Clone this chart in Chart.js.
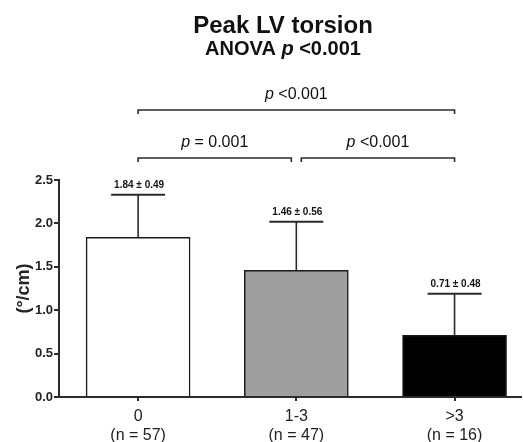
<!DOCTYPE html>
<html>
<head>
<meta charset="utf-8">
<script src="https://cdn.jsdelivr.net/npm/chart.js@4.4.1/dist/chart.umd.min.js"></script>
<style>
    html, body { margin: 0; padding: 0; background: #fff; }
    #wrap { width: 523px; height: 442px; position: relative; }
</style>
</head>
<body>
<div id="wrap"><canvas id="torsion-chart"></canvas></div>
<script>
// Chart data
const categories = ['0', '1-3', '>3'];
const groupSizes = [57, 47, 16];
const means = [1.84, 1.46, 0.71];
const sds = [0.49, 0.56, 0.48];
const barColors = ['#ffffff', '#9e9e9e', '#000000'];
const yTicks = [0, 0.5, 1.0, 1.5, 2.0, 2.5];

// Pairwise comparisons (category index from / to, p text after the italic "p")
const compFrom = [0, 1, 0];
const compTo = [1, 2, 2];
const compText = [' = 0.001', ' <0.001', ' <0.001'];

const FONT = '"Liberation Sans", Arial, sans-serif';
const INK = '#2b2b2b';

// Draw a run of text pieces (each with its own font) centred on cx
function drawParts(ctx, parts, cx, baseline) {
    let total = 0;
    parts.forEach(p => { ctx.font = p.font; total += ctx.measureText(p.text).width; });
    let x = cx - total / 2;
    ctx.textAlign = 'left';
    ctx.textBaseline = 'alphabetic';
    parts.forEach(p => {
        ctx.font = p.font;
        ctx.fillText(p.text, x, baseline);
        x += ctx.measureText(p.text).width;
    });
}

const annotationsPlugin = {
    id: 'annotations',
    afterDatasetsDraw(chart) {
        const { ctx, scales: { x, y } } = chart;
        ctx.save();
        ctx.strokeStyle = INK;
        ctx.fillStyle = '#111';

        // Error bars (upper only) + mean ± SD labels
        means.forEach((m, i) => {
            const cx = x.getPixelForValue(i);
            const yTop = y.getPixelForValue(m);
            const yCap = y.getPixelForValue(m + sds[i]);
            ctx.lineWidth = 1.6;
            ctx.beginPath();
            ctx.moveTo(cx, yTop);
            ctx.lineTo(cx, yCap);
            ctx.stroke();
            ctx.lineWidth = 2;
            ctx.beginPath();
            ctx.moveTo(cx - 27, yCap);
            ctx.lineTo(cx + 27, yCap);
            ctx.stroke();

            ctx.font = 'bold 10px ' + FONT;
            ctx.textAlign = 'center';
            ctx.textBaseline = 'alphabetic';
            ctx.fillText(m.toFixed(2) + ' \u00b1 ' + sds[i].toFixed(2), cx + 1, yCap - 7);
        });

        // Significance brackets
        const last = categories.length - 1;
        compFrom.forEach((from, k) => {
            const to = compTo[k];
            const wide = (to - from) > 1;
            const lineY = wide ? 110 : 158;
            let x1 = x.getPixelForValue(from);
            let x2 = x.getPixelForValue(to);
            if (!wide && from > 0) x1 += 5;
            if (!wide && to < last) x2 -= 5;
            ctx.lineWidth = 1.6;
            ctx.beginPath();
            ctx.moveTo(x1, lineY + 4);
            ctx.lineTo(x1, lineY);
            ctx.lineTo(x2, lineY);
            ctx.lineTo(x2, lineY + 4);
            ctx.stroke();
            drawParts(ctx, [
                { text: 'p', font: 'italic 16px ' + FONT },
                { text: compText[k], font: '16px ' + FONT }
            ], (x1 + x2) / 2, lineY - 11);
        });
        ctx.restore();
    },
    afterDraw(chart) {
        const { ctx } = chart;
        ctx.save();
        ctx.fillStyle = '#111';
        drawParts(ctx, [{ text: 'Peak LV torsion', font: 'bold 24px ' + FONT }], 283, 33);
        drawParts(ctx, [
            { text: 'ANOVA ', font: 'bold 20px ' + FONT },
            { text: 'p', font: 'italic bold 20px ' + FONT },
            { text: ' <0.001', font: 'bold 20px ' + FONT }
        ], 283, 55);
        ctx.restore();
    }
};

const ctx = document.getElementById('torsion-chart');
new Chart(ctx, {
    type: 'bar',
    data: {
        datasets: [{
            data: means.map((m, i) => ({ x: i, y: m })),
            backgroundColor: barColors,
            borderColor: '#1a1a1a',
            borderWidth: 1.5,
            barThickness: 104
        }]
    },
    options: {
        responsive: true,
        maintainAspectRatio: false,
        animation: false,
        layout: { padding: { top: 180, right: 2, left: 0, bottom: 0 } },
        plugins: {
            legend: { display: false },
            tooltip: { enabled: false }
        },
        scales: {
            x: {
                type: 'linear',
                min: -0.5,
                max: 2.42,
                offset: false,
                afterBuildTicks: (scale) => { scale.ticks = categories.map((c, i) => ({ value: i })); },
                afterFit: (scale) => { scale.height = 45; },
                border: { color: INK, width: 2 },
                grid: { offset: false, drawOnChartArea: false, drawTicks: true, tickLength: 4, color: INK, lineWidth: 2 },
                ticks: {
                    color: '#222',
                    padding: 6,
                    maxRotation: 0,
                    font: { family: FONT, size: 16, lineHeight: 1.2 },
                    callback: (v) => [categories[v], '(n = ' + groupSizes[v] + ')']
                }
            },
            y: {
                min: 0,
                max: 2.5,
                afterBuildTicks: (scale) => { scale.ticks = yTicks.map(v => ({ value: v })); },
                afterFit: (scale) => { scale.width = 59; },
                border: { color: INK, width: 2 },
                grid: { drawOnChartArea: false, drawTicks: true, tickLength: 5, color: INK, lineWidth: 2 },
                ticks: {
                    color: '#222',
                    padding: 1,
                    font: { family: FONT, size: 13, weight: 'bold' },
                    callback: (v) => v.toFixed(1)
                },
                title: {
                    display: true,
                    text: '(\u00b0/cm)',
                    color: '#222',
                    font: { family: FONT, size: 18, weight: 'bold' },
                    padding: { top: 13, bottom: 0 }
                }
            }
        }
    },
    plugins: [annotationsPlugin]
});
</script>
</body>
</html>
